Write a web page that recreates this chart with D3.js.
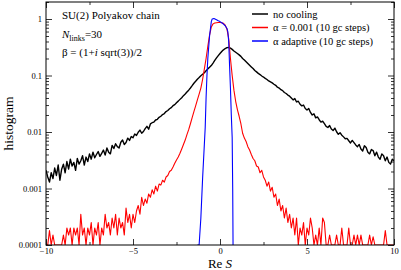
<!DOCTYPE html>
<html>
<head>
<meta charset="utf-8">
<script src="https://cdn.jsdelivr.net/npm/d3@7"></script>
<style>
  body { margin: 0; background: #fff; }
  text { font-family: "Liberation Serif", "DejaVu Serif", serif; }
</style>
</head>
<body>
<svg id="chart" width="401" height="270"></svg>
<script>
// histograms of Re S, bins 0.1 wide, first bin at -10
var binStart = -10, binStep = 0.1;

var noCooling = [
  0.0021, 0.0016, 0.0013, 0.0019, 0.0015, 0.0023, 0.0017, 0.0026, 0.0014, 0.0022,
  0.0027, 0.0019, 0.0030, 0.0022, 0.0033, 0.0025, 0.0029, 0.0021, 0.0034, 0.0027,
  0.0031, 0.0038, 0.0026, 0.0036, 0.0030, 0.0041, 0.0033, 0.0044, 0.0035, 0.0040,
  0.0045, 0.0037, 0.0042, 0.0048, 0.0039, 0.0052, 0.0044, 0.0041, 0.0058, 0.0051,
  0.0062, 0.0055, 0.0052, 0.0066, 0.0072, 0.0060, 0.0065, 0.0078, 0.0071, 0.0083,
  0.0079, 0.0092, 0.0087, 0.0099, 0.0108, 0.0095, 0.0102, 0.0115, 0.0126, 0.0112,
  0.0139, 0.0146, 0.0150, 0.0163, 0.0168, 0.0182, 0.0190, 0.0204, 0.0212, 0.0230,
  0.0240, 0.0258, 0.0270, 0.0292, 0.0305, 0.0330, 0.0352, 0.0378, 0.0405, 0.0440,
  0.047, 0.051, 0.055, 0.060, 0.066, 0.073, 0.079, 0.086, 0.092, 0.099,
  0.105, 0.112, 0.121, 0.131, 0.140, 0.150, 0.166, 0.185, 0.205, 0.225,
  0.245, 0.265, 0.285, 0.300, 0.312, 0.315, 0.305, 0.290, 0.272, 0.258,
  0.245, 0.232, 0.218, 0.200, 0.188, 0.175, 0.163, 0.152, 0.142, 0.133,
  0.123, 0.116, 0.109, 0.104, 0.098, 0.094, 0.089, 0.085, 0.080, 0.077,
  0.074, 0.070, 0.067, 0.062, 0.060, 0.056, 0.054, 0.050, 0.048, 0.045,
  0.043, 0.040, 0.037, 0.039, 0.034, 0.035, 0.031, 0.029, 0.030, 0.026,
  0.0245, 0.0260, 0.0222, 0.0200, 0.0210, 0.0178, 0.0185, 0.0165, 0.0150, 0.0155,
  0.0141, 0.0126, 0.0120, 0.0130, 0.0113, 0.0106, 0.0117, 0.0101, 0.0091, 0.0097,
  0.0088, 0.0082, 0.0076, 0.0077, 0.0070, 0.0064, 0.0071, 0.0065, 0.0059, 0.0055,
  0.0060, 0.0050, 0.0046, 0.0057, 0.0053, 0.0044, 0.0041, 0.0049, 0.0047, 0.0038,
  0.0044, 0.0036, 0.0033, 0.0041, 0.0038, 0.0031, 0.0036, 0.0029, 0.0027, 0.0033,
  0.0031
];

var alphaFixed = [
  1e-4, 1e-4, 1.8e-4, 1e-4, 1.5e-4, 1e-4, 1e-4, 1e-4, 1e-4, 1e-4,
  1.5e-4, 1e-4, 2e-4, 1.5e-4, 2e-4, 1e-4, 2e-4, 1.5e-4, 2e-4, 1e-4,
  3.5e-4, 1.5e-4, 2e-4, 1e-4, 2e-4, 1.5e-4, 2.5e-4, 1e-4, 2e-4, 1.5e-4,
  2.5e-4, 1e-4, 2e-4, 1.5e-4, 3.5e-4, 2e-4, 2.5e-4, 1.5e-4, 3e-4, 2e-4,
  3.5e-4, 1.5e-4, 3e-4, 2e-4, 2.5e-4, 1.5e-4, 4.5e-4, 2.5e-4, 3.5e-4, 2e-4,
  3.5e-4, 2.5e-4, 4e-4, 5e-4, 3.5e-4, 7e-4, 5e-4, 6.5e-4, 5.5e-4, 8e-4,
  7e-4, 9.5e-4, 8e-4, 1.1e-3, 9e-4, 1.2e-3, 1.15e-3, 1.4e-3, 1.3e-3, 1.6e-3,
  1.7e-3, 2.0e-3, 2.1e-3, 2.4e-3, 2.8e-3, 3.2e-3, 3.6e-3, 4.2e-3, 5e-3, 6e-3,
  7.2e-3, 0.009, 0.011, 0.014, 0.018, 0.023, 0.029, 0.037, 0.047, 0.06,
  0.085, 0.13, 0.2, 0.33, 0.52, 0.72, 0.82, 0.85, 0.86, 0.87,
  0.87, 0.86, 0.84, 0.78, 0.66, 0.45, 0.2, 0.1, 0.055, 0.035,
  0.025, 0.019, 0.014, 0.0095, 0.0078, 0.0068, 0.0055, 0.0048, 0.004, 0.0034,
  0.0031, 0.0025, 0.0024, 0.0019, 0.0021, 0.0016, 0.0014, 0.0011, 0.0013, 9e-4,
  1.05e-3, 7e-4, 8e-4, 5e-4, 6.5e-4, 4e-4, 5e-4, 3e-4, 4.5e-4, 2.5e-4,
  3.5e-4, 2e-4, 3e-4, 1.5e-4, 3e-4, 1e-4, 2e-4, 1.5e-4, 2.5e-4, 1e-4,
  2e-4, 1.5e-4, 3e-4, 2e-4, 1e-4, 1.5e-4, 1e-4, 2e-4, 1e-4, 3e-4,
  2.5e-4, 1e-4, 1e-4, 1.5e-4, 1e-4, 1e-4, 1e-4, 1.5e-4, 1e-4, 1e-4,
  2e-4, 1e-4, 1e-4, 1e-4, 2e-4, 1e-4, 1e-4, 1.5e-4, 1e-4, 1.5e-4,
  1e-4, 1.5e-4, 1e-4, 1e-4, 1e-4, 1e-4, 1.5e-4, 1e-4, 1.4e-4, 1e-4,
  1e-4, 1e-4, 1e-4, 1e-4, 1e-4, 1.8e-4, 1e-4, 1e-4, 1e-4, 1e-4,
  1e-4
];

var blueX = [-1.3, -1.2, -1.1, -1, -0.9, -0.85, -0.8, -0.75, -0.7, -0.6, -0.5, -0.45, -0.35, -0.2,
  -0.1, 0, 0.1, 0.2, 0.3, 0.4, 0.45, 0.5, 0.55, 0.6, 0.65, 0.7, 0.73, 0.75];
var alphaAdaptive = [1e-4, 1e-4, 3e-4, 1.5e-3, 0.006, 0.012, 0.04, 0.1, 0.2, 0.5, 0.9, 1.0, 1.02, 0.97,
  0.93, 0.9, 0.86, 0.81, 0.76, 0.68, 0.6, 0.4, 0.15, 0.06, 0.02, 0.008, 0.001, 1e-4];

var xMajor = [-10, -5, 0, 5, 10];
var xMinor = [-7.5, -2.5, 2.5, 7.5];
var yMajor = [1e-4, 1e-3, 1e-2, 0.1, 1];
var yLabels = ['0.0001', '0.001', '0.01', '0.1', '1'];

var series = [
  { name: 'no cooling', color: '#000000' },
  { name: '\u03b1 = 0.001 (10 gc steps)', color: '#ff0000' },
  { name: '\u03b1 adaptive (10 gc steps)', color: '#0000ff' }
];

(function () {
  var svg = d3.select('#chart');
  var x0 = 46, x1 = 394, y0 = 2, y1 = 245;

  var x = d3.scaleLinear().domain([-10, 10]).range([x0, x1]);
  var y = d3.scaleLog().domain([1e-4, 2]).range([y1, y0]);

  var yMinor = [];
  yMajor.forEach(function (d) {
    for (var k = 2; k <= 9; k++) {
      if (d * k <= 2) yMinor.push(d * k);
    }
  });

  svg.append('clipPath').attr('id', 'clip')
    .append('rect').attr('x', x0).attr('y', y0)
    .attr('width', x1 - x0).attr('height', y1 - y0);

  var line = d3.line()
    .x(function (d) { return x(d[0]); })
    .y(function (d) { return y(Math.max(d[1], 1e-4)); });

  var plot = svg.append('g').attr('clip-path', 'url(#clip)');

  var blackData = noCooling.map(function (v, i) { return [binStart + i * binStep, v]; });
  var redData = alphaFixed.map(function (v, i) { return [binStart + i * binStep, v]; });
  var blueData = alphaAdaptive.map(function (v, i) { return [blueX[i], v]; });

  [blackData, redData, blueData].forEach(function (data, i) {
    plot.append('path')
      .datum(data)
      .attr('d', line)
      .attr('fill', 'none')
      .attr('stroke', series[i].color)
      .attr('stroke-width', i === 0 ? 1.4 : 1.1)
      .attr('stroke-linejoin', 'round');
  });

  // axes, ticks pointing inward
  function styleAxis(g) {
    g.select('.domain').remove();
    g.selectAll('line').attr('stroke', '#000').attr('stroke-width', 0.8);
    g.selectAll('text').attr('font-size', 8.5).attr('fill', '#000')
      .attr('font-family', '"Liberation Serif", serif');
  }

  svg.append('g').attr('transform', 'translate(0,' + y1 + ')')
    .call(d3.axisBottom(x).tickValues(xMajor).tickSize(-6).tickPadding(3)
      .tickFormat(d3.format('d')))
    .call(styleAxis);
  svg.append('g').attr('transform', 'translate(0,' + y1 + ')')
    .call(d3.axisBottom(x).tickValues(xMinor).tickSize(-3).tickFormat(''))
    .call(styleAxis);
  svg.append('g').attr('transform', 'translate(0,' + y0 + ')')
    .call(d3.axisTop(x).tickValues(xMajor).tickSize(-6).tickFormat(''))
    .call(styleAxis);
  svg.append('g').attr('transform', 'translate(0,' + y0 + ')')
    .call(d3.axisTop(x).tickValues(xMinor).tickSize(-3).tickFormat(''))
    .call(styleAxis);

  svg.append('g').attr('transform', 'translate(' + x0 + ',0)')
    .call(d3.axisLeft(y).tickValues(yMajor).tickSize(-6).tickPadding(4)
      .tickFormat(function (d, i) { return yLabels[i]; }))
    .call(styleAxis);
  svg.append('g').attr('transform', 'translate(' + x0 + ',0)')
    .call(d3.axisLeft(y).tickValues(yMinor).tickSize(-3).tickFormat(''))
    .call(styleAxis);
  svg.append('g').attr('transform', 'translate(' + x1 + ',0)')
    .call(d3.axisRight(y).tickValues(yMajor).tickSize(-6).tickFormat(''))
    .call(styleAxis);
  svg.append('g').attr('transform', 'translate(' + x1 + ',0)')
    .call(d3.axisRight(y).tickValues(yMinor).tickSize(-3).tickFormat(''))
    .call(styleAxis);

  svg.append('rect')
    .attr('x', x0).attr('y', y0)
    .attr('width', x1 - x0).attr('height', y1 - y0)
    .attr('fill', 'none').attr('stroke', '#000').attr('stroke-width', 1);

  // axis titles
  var xt = svg.append('text')
    .attr('x', (x0 + x1) / 2).attr('y', 268)
    .attr('text-anchor', 'middle').attr('font-size', 13);
  xt.append('tspan').text('Re ');
  xt.append('tspan').attr('font-style', 'italic').text('S');

  svg.append('text')
    .attr('transform', 'translate(13,' + ((y0 + y1) / 2) + ') rotate(-90)')
    .attr('text-anchor', 'middle').attr('font-size', 13.5)
    .text('histogram');

  // annotation
  var note = svg.append('g').attr('font-size', 11);
  note.append('text').attr('x', 62).attr('y', 19).text('SU(2) Polyakov chain');
  var n = note.append('text').attr('x', 62).attr('y', 38);
  n.append('tspan').attr('font-style', 'italic').text('N');
  n.append('tspan').attr('font-size', 8).attr('dy', 3).text('links');
  n.append('tspan').attr('dy', -3).text('=30');
  var b = note.append('text').attr('x', 62).attr('y', 56);
  b.append('tspan').text('\u03b2 = (1+');
  b.append('tspan').attr('font-style', 'italic').text('i');
  b.append('tspan').text(' sqrt(3))/2');

  // legend
  var leg = svg.append('g');
  series.forEach(function (s, i) {
    var ly = 14 + i * 13.5;
    leg.append('line')
      .attr('x1', 252).attr('x2', 268).attr('y1', ly).attr('y2', ly)
      .attr('stroke', s.color).attr('stroke-width', 1.5);
    leg.append('text')
      .attr('x', 273).attr('y', ly + 3.5)
      .attr('font-size', 10.5)
      .text(s.name);
  });
})();
</script>
</body>
</html>
